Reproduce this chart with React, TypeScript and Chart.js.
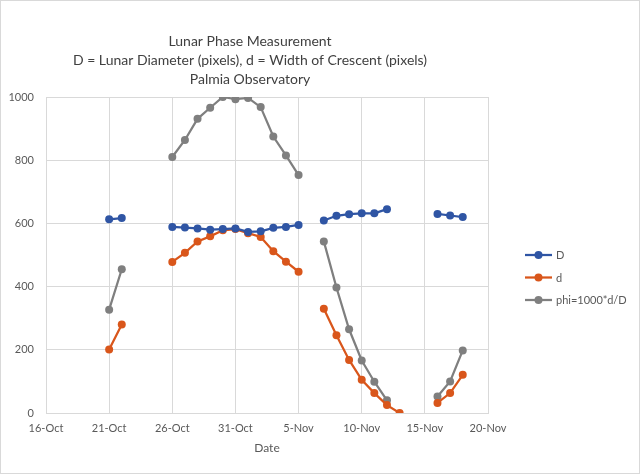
import { useEffect, useRef } from 'react';
import { Chart, registerables } from 'chart.js';

Chart.register(...registerables);

const titleLines = [
  'Lunar Phase Measurement',
  'D = Lunar Diameter (pixels), d = Width of Crescent (pixels)',
  'Palmia Observatory',
];
const xAxisTitle = 'Date';
const xTickLabels = ['16-Oct', '21-Oct', '26-Oct', '31-Oct', '5-Nov', '10-Nov', '15-Nov', '20-Nov'];
const yTickValues = [0, 200, 400, 600, 800, 1000];

const dates = [
  '21-Oct', '22-Oct', '23-Oct', '24-Oct', '25-Oct', '26-Oct', '27-Oct', '28-Oct', '29-Oct', '30-Oct', '31-Oct',
  '1-Nov', '2-Nov', '3-Nov', '4-Nov', '5-Nov', '6-Nov', '7-Nov', '8-Nov', '9-Nov', '10-Nov', '11-Nov', '12-Nov',
  '13-Nov', '14-Nov', '15-Nov', '16-Nov', '17-Nov', '18-Nov',
];
const seriesNames = ['D', 'd', 'phi=1000*d/D'];
const diameterD = [
  613, 617, null, null, null, 589, 587, 584, 580, 582, 584,
  573, 575, 586, 589, 595, null, 609, 624, 629, 632, 632, 645,
  null, null, null, 630, 625, 620,
];
const crescentD = [
  201, 280, null, null, null, 478, 507, 543, 559, 578, 582,
  569, 557, 512, 479, 447, null, 330, 246, 168, 105, 63, 25,
  0, null, null, 32, 63, 121,
];
const phi = [
  327, 455, null, null, null, 810, 864, 931, 966, 1000, 993,
  997, 968, 875, 815, 753, null, 543, 397, 265, 166, 99, 40,
  null, null, null, 52, 100, 198,
];
const seriesColors = ['#2F55A4', '#D9561B', '#7F7F7F'];

const monthStart: Record<string, number> = { Oct: 0, Nov: 31 };
const dayNumber = (s: string) => {
  const [d, m] = s.split('-');
  return parseInt(d, 10) + monthStart[m];
};
const baseDay = dayNumber(xTickLabels[0]);
const dayOffset = (s: string) => dayNumber(s) - baseDay;

const FONT = 'Lato, "Liberation Sans", sans-serif';

const toPoints = (vals: (number | null)[]) => dates.map((dt, i) => ({ x: dayOffset(dt), y: vals[i] }));

export default function App() {
  const ref = useRef<HTMLCanvasElement>(null);
  useEffect(() => {
    document.body.style.margin = '0';
    const canvas = ref.current!;
    const titlePlugin = {
      id: 'titleLegend',
      afterDraw(chart: any) {
        const ctx = chart.ctx;
        ctx.save();
        ctx.strokeStyle = '#d9d9d9';
        ctx.lineWidth = 1;
        ctx.strokeRect(0.5, 0.5, chart.width - 1, chart.height - 1);
        ctx.fillStyle = '#404040';
        ctx.font = `14px ${FONT}`;
        ctx.textAlign = 'center';
        ctx.textBaseline = 'middle';
        const ty = [41, 60, 79];
        titleLines.forEach((t, i) => ctx.fillText(t, 250, ty[i]));
        // legend
        const ly = [255, 277.5, 300];
        chart.data.datasets.forEach((ds: any, i: number) => {
          ctx.strokeStyle = ds.borderColor;
          ctx.lineWidth = 2.25;
          ctx.beginPath();
          ctx.moveTo(525, ly[i]);
          ctx.lineTo(552, ly[i]);
          ctx.stroke();
          ctx.fillStyle = ds.backgroundColor;
          ctx.beginPath();
          ctx.arc(538.5, ly[i], 4, 0, Math.PI * 2);
          ctx.fill();
          ctx.fillStyle = '#595959';
          ctx.font = `11px ${FONT}`;
          ctx.textAlign = 'left';
          ctx.fillText(ds.label, 556, ly[i] + 0.5);
        });
        ctx.restore();
      },
    };
    const makeDs = (label: string, vals: (number | null)[], color: string) => ({
      label,
      data: toPoints(vals),
      borderColor: color,
      backgroundColor: color,
      borderWidth: 2.25,
      pointRadius: 4,
      pointBorderWidth: 0,
      pointBackgroundColor: color,
      spanGaps: false,
      tension: 0,
    });
    const chart = new Chart(canvas, {
      type: 'line',
      data: {
        datasets: [
          makeDs(seriesNames[0], diameterD, seriesColors[0]),
          makeDs(seriesNames[1], crescentD, seriesColors[1]),
          makeDs(seriesNames[2], phi, seriesColors[2]),
        ],
      },
      options: {
        animation: false,
        responsive: false,
        layout: { padding: { top: 97, right: 152, left: 0, bottom: 0 } },
        plugins: {
          legend: { display: false },
          title: { display: false },
          tooltip: { enabled: false },
        },
        scales: {
          x: {
            type: 'linear',
            min: 0,
            max: dayOffset(xTickLabels[xTickLabels.length - 1]),
            afterFit: (s: any) => { s.height = 61; },
            afterBuildTicks: (s: any) => {
              s.ticks = xTickLabels.map((l) => ({ value: dayOffset(l) }));
            },
            ticks: {
              callback: (v: any) => {
                const l = xTickLabels.find((t) => dayOffset(t) === v);
                return l ?? '';
              },
              color: '#595959',
              font: { family: FONT, size: 11 },
              padding: 9,
              maxRotation: 0,
              autoSkip: false,
            },
            grid: { color: '#d9d9d9', drawTicks: false },
            border: { color: '#d9d9d9' },
            title: {
              display: true,
              text: xAxisTitle,
              color: '#595959',
              font: { family: FONT, size: 12 },
              padding: { top: 0, bottom: 19 },
            },
          },
          y: {
            min: yTickValues[0],
            max: yTickValues[yTickValues.length - 1],
            afterFit: (s: any) => { s.width = 46; },
            afterBuildTicks: (s: any) => {
              s.ticks = yTickValues.map((v) => ({ value: v }));
            },
            ticks: {
              callback: (v: any) => String(v),
              color: '#595959',
              font: { family: FONT, size: 11 },
              padding: 12,
            },
            grid: { color: '#d9d9d9', drawTicks: false },
            border: { color: '#d9d9d9' },
          },
        },
      },
      plugins: [titlePlugin],
    });
    return () => chart.destroy();
  }, []);
  return <canvas ref={ref} width={640} height={474} />;
}
